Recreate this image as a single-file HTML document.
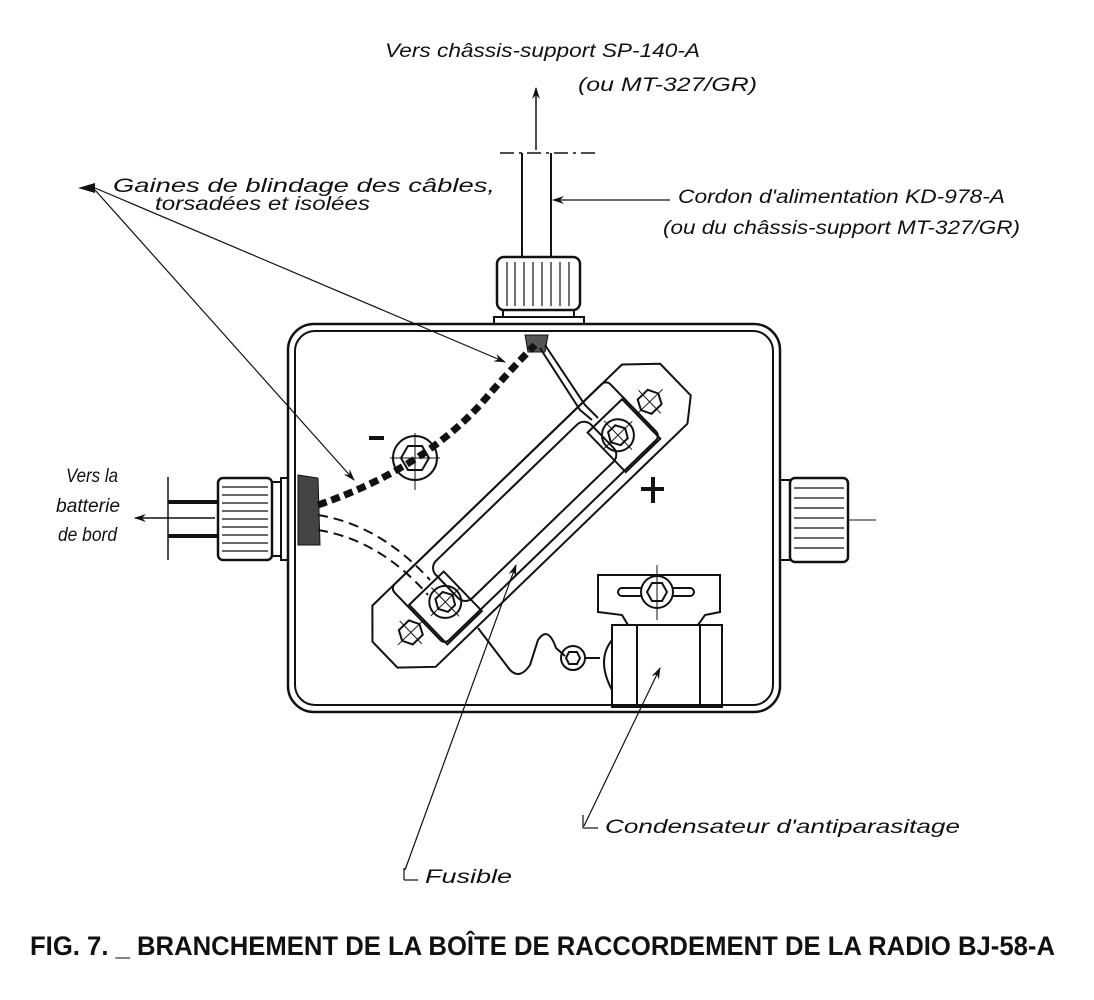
<!DOCTYPE html>
<html><head><meta charset="utf-8"><style>
html,body{margin:0;padding:0;background:#fff;}
svg{display:block}
.h{font-family:"Liberation Sans",sans-serif;font-style:italic;font-size:19px;fill:#111;}
</style></head><body>
<svg width="1094" height="1000" viewBox="0 0 1094 1000" xmlns="http://www.w3.org/2000/svg">
<defs><marker id="a" markerWidth="12" markerHeight="8" refX="11" refY="4" orient="auto" markerUnits="userSpaceOnUse"><path d="M0,0 L12,4 L0,8 L4,4z" fill="#111"/></marker></defs>
<g stroke="#111" fill="none" stroke-width="2">
<rect x="288" y="324" width="492" height="388" rx="26" stroke-width="2.5"/>
<rect x="295" y="331" width="478" height="374" rx="20" stroke-width="2"/>
<line x1="500" y1="153" x2="595" y2="153" stroke-dasharray="14,5,3,5" stroke-width="1.5"/>
<line x1="522" y1="153" x2="522" y2="257"/><line x1="551" y1="153" x2="551" y2="257"/>
<line x1="536" y1="150" x2="536" y2="88" stroke-width="1.5" marker-end="url(#a)"/>
<rect x="497" y="257" width="83" height="53" rx="7" stroke-width="2.5"/>
<g stroke-width="1.2"><line x1="507" y1="262" x2="507" y2="306"/><line x1="515" y1="262" x2="515" y2="306"/><line x1="524" y1="262" x2="524" y2="306"/><line x1="533" y1="262" x2="533" y2="306"/><line x1="542" y1="262" x2="542" y2="306"/><line x1="551" y1="262" x2="551" y2="306"/><line x1="560" y1="262" x2="560" y2="306"/><line x1="569" y1="262" x2="569" y2="306"/></g>
<rect x="503" y="310" width="71" height="7"/><rect x="494" y="317" width="90" height="7"/>
<line x1="168" y1="477" x2="168" y2="560" stroke-width="1.5"/>
<line x1="168" y1="502" x2="218" y2="502" stroke-width="4"/><line x1="168" y1="536" x2="218" y2="536" stroke-width="4"/>
<line x1="215" y1="518" x2="135" y2="518" stroke-width="1.5" marker-end="url(#a)"/>
<rect x="218" y="478" width="54" height="82" rx="5" stroke-width="2.5"/>
<g stroke-width="1.2"><line x1="222" y1="487" x2="268" y2="487"/><line x1="222" y1="495" x2="268" y2="495"/><line x1="222" y1="503" x2="268" y2="503"/><line x1="222" y1="511" x2="268" y2="511"/><line x1="222" y1="519" x2="268" y2="519"/><line x1="222" y1="527" x2="268" y2="527"/><line x1="222" y1="535" x2="268" y2="535"/><line x1="222" y1="543" x2="268" y2="543"/><line x1="222" y1="551" x2="268" y2="551"/></g>
<rect x="272" y="482" width="9" height="74"/><rect x="281" y="478" width="7" height="82"/>
<rect x="780" y="480" width="10" height="80"/>
<rect x="790" y="478" width="58" height="84" rx="5" stroke-width="2.5"/>
<g stroke-width="1.2"><line x1="794" y1="488" x2="844" y2="488"/><line x1="794" y1="498" x2="844" y2="498"/><line x1="794" y1="508" x2="844" y2="508"/><line x1="794" y1="518" x2="844" y2="518"/><line x1="794" y1="528" x2="844" y2="528"/><line x1="794" y1="538" x2="844" y2="538"/><line x1="794" y1="548" x2="844" y2="548"/></g>
<line x1="848" y1="520" x2="876" y2="520" stroke-width="1"/>
<path d="M298,475 L318,478 L320,545 L298,545z" fill="#444" stroke-width="1"/>
<path d="M525,335 L548,335 L545,352 L528,352z" fill="#555" stroke-width="1"/>
<path d="M318,505 Q420,470 480,405 Q510,370 535,345" stroke-width="7" stroke-dasharray="9,5"/>
<path d="M545,345 L585,405 L598,418" stroke-width="2"/><path d="M540,348 L580,410 L592,420" stroke-width="2"/>
<path d="M318,515 Q380,525 430,580" stroke-width="2" stroke-dasharray="10,6"/>
<path d="M318,530 Q380,540 428,595" stroke-width="2" stroke-dasharray="10,6"/>
<circle cx="415" cy="458" r="22"/><polygon points="401,458 408,446 422,446 429,458 422,470 408,470"/>
<line x1="390" y1="458" x2="440" y2="458" stroke-width="1"/><line x1="415" y1="433" x2="415" y2="490" stroke-width="1"/>
<line x1="369" y1="438" x2="384" y2="438" stroke-width="4"/>
<line x1="641" y1="489" x2="664" y2="489" stroke-width="4"/><line x1="653" y1="477" x2="653" y2="503" stroke-width="4"/>
<g transform="translate(533,520) rotate(-44)">
<polygon points="-175,-50 172,-50 200,-24 200,20 178,38 -172,38 -200,12 -200,-24"/>
<rect x="-150" y="-50" width="300" height="78" rx="6"/>
<rect x="-108" y="-38" width="216" height="52" rx="10"/>
<rect x="100" y="-25" width="48" height="55"/><rect x="-148" y="-25" width="48" height="55"/>
<circle cx="120" cy="-2" r="16"/><polygon points="110,-2 115,-11 125,-11 130,-2 125,7 115,7"/>
<circle cx="-120" cy="-2" r="16"/><polygon points="-130,-2 -125,-11 -115,-11 -110,-2 -115,7 -125,7"/>
<polygon points="154,-4 159,-14 173,-14 178,-4 173,6 159,6"/>
<polygon points="-178,-4 -173,-14 -159,-14 -154,-4 -159,6 -173,6"/>
<g stroke-width="1"><line x1="100" y1="-2" x2="140" y2="-2"/><line x1="120" y1="-22" x2="120" y2="18"/><line x1="-140" y1="-2" x2="-100" y2="-2"/><line x1="-120" y1="-22" x2="-120" y2="18"/><line x1="148" y1="-4" x2="184" y2="-4"/><line x1="166" y1="-20" x2="166" y2="12"/><line x1="-184" y1="-4" x2="-148" y2="-4"/><line x1="-166" y1="-20" x2="-166" y2="12"/></g>
</g>
<path d="M478,628 L510,670 Q520,680 530,665 L538,640 Q548,625 556,648 L565,656" stroke-width="2"/>
<path d="M598,575 L720,575 L720,612 L705,615 L698,625 L628,625 L622,615 L598,612z"/>
<path d="M622,592 L690,592" stroke-width="10" stroke-linecap="round"/><path d="M622,592 L690,592" stroke-width="6" stroke="#fff" stroke-linecap="round"/>
<circle cx="657" cy="592" r="16" fill="#fff"/><polygon points="647,592 652,583 662,583 667,592 662,601 652,601"/>
<line x1="657" y1="565" x2="657" y2="620" stroke-width="1"/>
<rect x="612" y="625" width="110" height="82"/>
<line x1="637" y1="625" x2="637" y2="707"/><line x1="700" y1="625" x2="700" y2="707"/>
<path d="M612,640 Q596,660 612,690" /><circle cx="573" cy="658" r="12"/><polygon points="566,658 569,652 577,652 580,658 577,664 569,664"/>
<line x1="585" y1="658" x2="600" y2="658"/>
<g stroke-width="1.2">
<line x1="95" y1="188" x2="505" y2="362" marker-end="url(#a)"/>
<line x1="95" y1="190" x2="354" y2="480" marker-end="url(#a)"/>
<line x1="670" y1="200" x2="553" y2="200" marker-end="url(#a)"/>
<line x1="405" y1="870" x2="516" y2="565" marker-end="url(#a)"/>
<line x1="404" y1="868" x2="404" y2="880"/><line x1="404" y1="880" x2="418" y2="880"/>
<line x1="584" y1="826" x2="660" y2="668" marker-end="url(#a)"/>
<line x1="583" y1="815" x2="583" y2="828"/><line x1="583" y1="828" x2="598" y2="828"/>
</g>
<path d="M78,188 L95,183 L95,193z" fill="#111" stroke="none"/>
</g>
<text class="h" x="385" y="57" textLength="315" lengthAdjust="spacingAndGlyphs">Vers châssis-support SP-140-A</text>
<text class="h" x="578" y="91" textLength="179" lengthAdjust="spacingAndGlyphs">(ou MT-327/GR)</text>
<text class="h" x="113" y="192" textLength="382" lengthAdjust="spacingAndGlyphs">Gaines de blindage des câbles,</text>
<text class="h" x="155" y="210" textLength="215" lengthAdjust="spacingAndGlyphs">torsadées et isolées</text>
<text class="h" x="678" y="203" textLength="327" lengthAdjust="spacingAndGlyphs">Cordon d'alimentation KD-978-A</text>
<text class="h" x="663" y="234" textLength="357" lengthAdjust="spacingAndGlyphs">(ou du châssis-support MT-327/GR)</text>
<text class="h" x="66" y="482" textLength="52" lengthAdjust="spacingAndGlyphs">Vers la</text>
<text class="h" x="56" y="512" textLength="64" lengthAdjust="spacingAndGlyphs">batterie</text>
<text class="h" x="58" y="541" textLength="59" lengthAdjust="spacingAndGlyphs">de bord</text>
<text class="h" x="605" y="833" textLength="355" lengthAdjust="spacingAndGlyphs">Condensateur d'antiparasitage</text>
<text class="h" x="425" y="883" textLength="87" lengthAdjust="spacingAndGlyphs">Fusible</text>
<text x="30" y="955" font-family="'Liberation Sans Narrow','Liberation Sans',sans-serif" font-weight="bold" font-size="27" fill="#111" textLength="1025" lengthAdjust="spacingAndGlyphs">FIG. 7. _ BRANCHEMENT DE LA BOÎTE DE RACCORDEMENT DE LA RADIO BJ-58-A</text>
</svg>
</body></html>
